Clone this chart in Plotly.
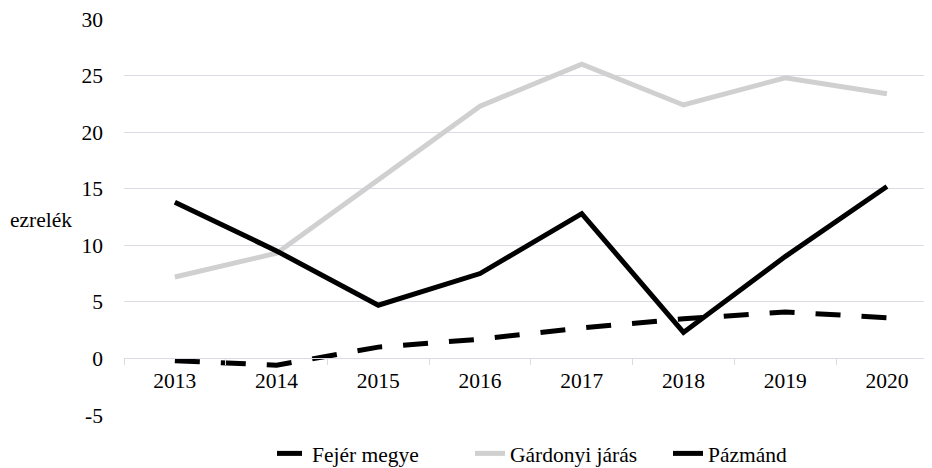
import plotly.graph_objects as go

years = ["2013", "2014", "2015", "2016", "2017", "2018", "2019", "2020"]
fejer = [-0.2, -0.6, 1.0, 1.7, 2.7, 3.5, 4.1, 3.6]
gardonyi = [7.2, 9.3, 15.8, 22.3, 26.0, 22.4, 24.8, 23.4]
pazmand = [13.8, 9.5, 4.7, 7.5, 12.8, 2.3, 9.0, 15.2]
ytick_vals = [-5, 0, 5, 10, 15, 20, 25, 30]
ytick_text = ["-5", "0", "5", "10", "15", "20", "25", "30"]

FONT = "Liberation Serif, Times New Roman, serif"
FS = 21.5
OFF = 8  # page body margin offset

fig = go.Figure()
fig.add_trace(go.Scatter(x=years, y=fejer, name="Fejér megye", mode="lines",
                         line=dict(color="black", width=5, dash="25px,21px")))
fig.add_trace(go.Scatter(x=years, y=gardonyi, name="Gárdonyi járás", mode="lines",
                         line=dict(color="#d0d0d0", width=5)))
fig.add_trace(go.Scatter(x=years, y=pazmand, name="Pázmánd", mode="lines",
                         line=dict(color="black", width=5)))

fig.update_layout(
    width=932 - OFF, height=468 - OFF,
    margin=dict(l=124 - OFF, r=0, t=19 - OFF, b=53, autoexpand=False),
    paper_bgcolor="white", plot_bgcolor="white",
    font=dict(family=FONT, size=FS, color="black"),
    showlegend=True,
    legend=dict(orientation="h", x=(272 - 124) / 808, xanchor="left", y=-0.097,
                yanchor="middle", font=dict(family=FONT, size=FS),
                itemwidth=30, tracegroupgap=0, entrywidth=153, entrywidthmode="pixels"),
    xaxis=dict(type="category", range=[-0.5, 7.443], anchor="free", automargin=False,
               position=5/35, showgrid=False, showline=True, linecolor="#d9dde3",
               linewidth=1, ticks="outside", tickson="boundaries", ticklen=6,
               tickcolor="#d9dde3", zeroline=False, ticklabelstandoff=3),
    yaxis=dict(range=[-5, 30], tickvals=ytick_vals, ticktext=ytick_text, automargin=False,
               showgrid=True, gridcolor="#d9dde3", gridwidth=1, zeroline=False,
               showline=False, ticklabelstandoff=20, ticklabeloverflow="allow"),
    annotations=[dict(text="ezrelék", xref="paper", yref="paper",
                      x=(8 - 124) / 808, y=(415 - 220) / 396,
                      xanchor="left", yanchor="middle", showarrow=False,
                      font=dict(family=FONT, size=FS))],
)

fig.write_html("out.html")
